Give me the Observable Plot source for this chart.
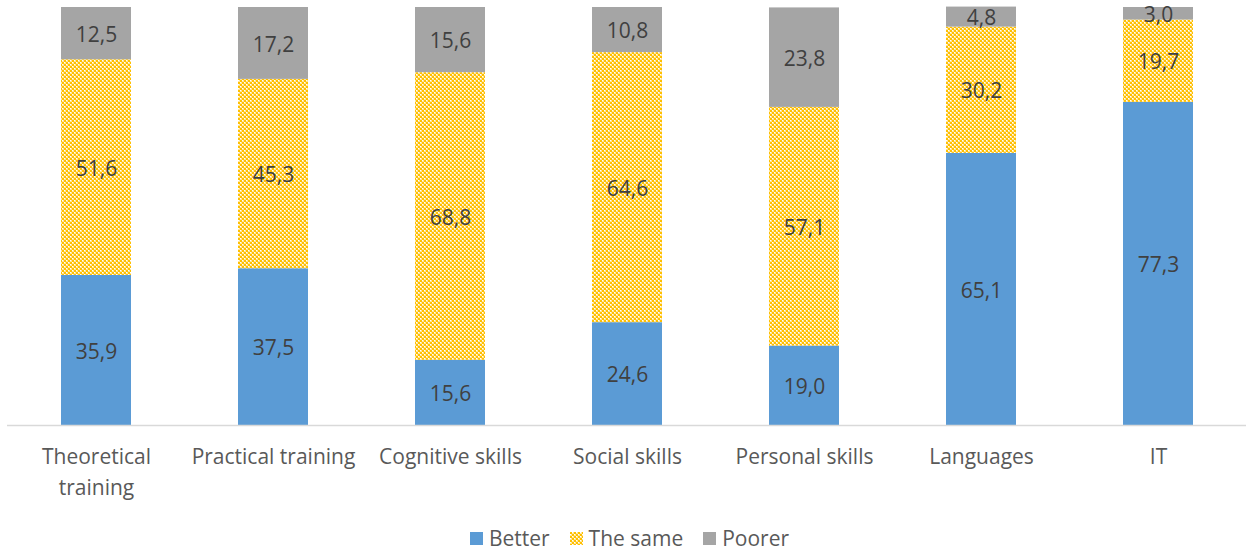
<!DOCTYPE html>
<html>
<head>
<meta charset="utf-8">
<script src="https://cdn.jsdelivr.net/npm/d3@7"></script>
<script src="https://cdn.jsdelivr.net/npm/@observablehq/plot@0.6"></script>
<style>
  html, body { margin: 0; padding: 0; background: #fff; }
  #legend { display: flex; justify-content: center; gap: 20px; font-family: "Open Sans", sans-serif; font-size: 21px; color: #595959; padding-top: 14px; padding-left: 12px; }
  #legend span.item { display: flex; align-items: center; }
  svg { overflow: visible; }
</style>
</head>
<body>
<div id="chart"></div>
<div id="legend"></div>
<script>
const categories = ["Theoretical\ntraining", "Practical training", "Cognitive skills", "Social skills", "Personal skills", "Languages", "IT"];
const seriesNames = ["Better", "The same", "Poorer"];
const better  = [35.9, 37.5, 15.6, 24.6, 19.0, 65.1, 77.3];
const same    = [51.6, 45.3, 68.8, 64.6, 57.1, 30.2, 19.7];
const poorer  = [12.5, 17.2, 15.6, 10.8, 23.8, 4.8, 3.0];
const colors = ["#5B9BD5", "url(#samePattern)", "#A5A5A5"];

const seriesValues = [better, same, poorer];
const data = [];
seriesNames.forEach((s, si) => {
  categories.forEach((c, ci) => data.push({category: c, series: s, value: seriesValues[si][ci]}));
});
const fmt = v => v.toFixed(1).replace(".", ",");

const chart = Plot.plot({
  width: 1247,
  height: 510,
  marginTop: 7,
  marginBottom: 85,
  marginLeft: 7,
  marginRight: 1,
  style: {fontFamily: "Open Sans, sans-serif", background: "#fff", overflow: "visible"},
  x: {domain: categories, paddingInner: 0.605, paddingOuter: 0.3025, label: null},
  y: {domain: [0, 100], axis: null},
  color: {domain: seriesNames, range: colors},
  marks: [
    Plot.barY(data, Plot.stackY({x: "category", y: "value", fill: "series", order: seriesNames})),
    Plot.ruleY([0], {stroke: "#D9D9D9", strokeWidth: 1.5}),
    Plot.text(data, Plot.stackY({x: "category", y: "value", z: "series", order: seriesNames, text: d => fmt(d.value), fill: "#404040", fontSize: 21, dy: 1.5})),
    Plot.axisX({tickSize: 0, tickPadding: 17, fontSize: 21, lineHeight: 1.45, color: "#595959", textAnchor: "middle", label: null})
  ]
});

// pattern definition for "The same"
const ns = "http://www.w3.org/2000/svg";
const defs = document.createElementNS(ns, "defs");
const pat = document.createElementNS(ns, "pattern");
pat.setAttribute("id", "samePattern");
pat.setAttribute("patternUnits", "userSpaceOnUse");
pat.setAttribute("width", "8");
pat.setAttribute("height", "8");
const bg = document.createElementNS(ns, "rect");
bg.setAttribute("width", "8"); bg.setAttribute("height", "8"); bg.setAttribute("fill", "#FFE49A");
pat.appendChild(bg);
[[0,0],[4,0],[2,2],[6,2],[0,4],[4,4],[2,6],[6,6]].forEach(([x, y]) => {
  const r = document.createElementNS(ns, "rect");
  r.setAttribute("x", x); r.setAttribute("y", y);
  r.setAttribute("width", "2"); r.setAttribute("height", "2");
  r.setAttribute("fill", "#FFC000");
  pat.appendChild(r);
});
[[3,1],[7,1],[1,3],[5,3],[3,5],[7,5],[1,7],[5,7]].forEach(([x, y]) => {
  const r = document.createElementNS(ns, "rect");
  r.setAttribute("x", x - 1); r.setAttribute("y", y - 1);
  r.setAttribute("width", "1"); r.setAttribute("height", "1");
  r.setAttribute("fill", "#FFFFFF");
  pat.appendChild(r);
});
defs.appendChild(pat);
const svgPat = document.createElementNS(ns, "svg");
svgPat.setAttribute("width", "0"); svgPat.setAttribute("height", "0");
svgPat.style.position = "absolute";
svgPat.appendChild(defs);
document.body.prepend(svgPat);

document.getElementById("chart").appendChild(chart);

const legend = document.getElementById("legend");
seriesNames.forEach((s, i) => {
  const item = document.createElement("span");
  item.className = "item";
  const sw = document.createElementNS(ns, "svg");
  sw.setAttribute("width", "13"); sw.setAttribute("height", "13");
  sw.style.marginRight = "6px";
  const r = document.createElementNS(ns, "rect");
  r.setAttribute("width", "13"); r.setAttribute("height", "13");
  r.setAttribute("fill", colors[i]);
  sw.appendChild(r);
  item.appendChild(sw);
  item.appendChild(document.createTextNode(s));
  legend.appendChild(item);
});
</script>
</body>
</html>
